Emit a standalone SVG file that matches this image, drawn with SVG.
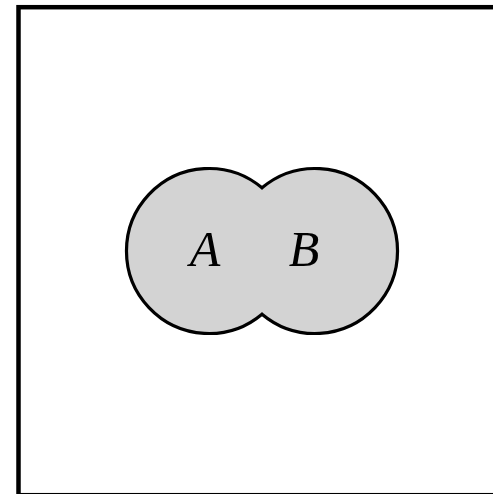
<svg xmlns="http://www.w3.org/2000/svg" width="493" height="494" viewBox="0 0 493 494">
<style>
.frame{fill:none;stroke:#000;stroke-width:4.5}
.set{fill:#d3d3d3;stroke:#000;stroke-width:3.2;stroke-linejoin:miter}
.lbl{font-family:"Liberation Serif","Times New Roman",serif;font-style:italic;font-size:50px;fill:#000;text-anchor:middle}
</style>
<rect width="493" height="494" fill="#fff"/>
<rect class="frame" x="18.5" y="7.2" width="490" height="488"/>
<g id="union">
<path class="set" d="M262,187.8 A82.5,82.5 0 1,0 262,314.2 A82.5,82.5 0 1,0 262,187.8 Z"/>
</g>
<g id="A"><text class="lbl" x="205" y="266">A</text></g>
<g id="B"><text class="lbl" x="304" y="266">B</text></g>
</svg>
